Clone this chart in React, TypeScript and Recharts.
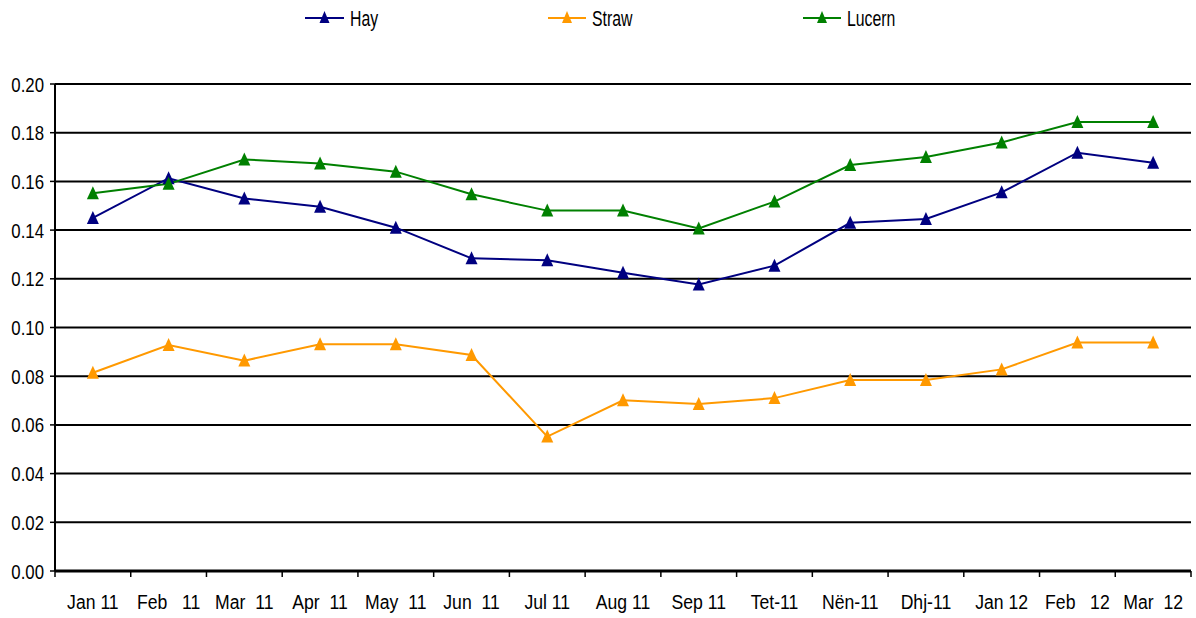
import React from "react";
import { LineChart, Line, XAxis, YAxis, CartesianGrid } from "recharts";

const categories = [
  "Jan 11", "Feb   11", "Mar  11", "Apr  11", "May  11", "Jun  11", "Jul 11", "Aug 11",
  "Sep 11", "Tet-11", "Nën-11", "Dhj-11", "Jan 12", "Feb   12", "Mar  12",
];
const hay = [0.145, 0.1613, 0.153, 0.1496, 0.141, 0.1284, 0.1276, 0.1225, 0.1177, 0.1254, 0.143, 0.1446, 0.1555, 0.1718, 0.1677];
const straw = [0.0814, 0.0928, 0.0864, 0.0931, 0.0931, 0.0887, 0.0552, 0.0701, 0.0686, 0.071, 0.0784, 0.0784, 0.0828, 0.0938, 0.0938];
const lucern = [0.1551, 0.159, 0.169, 0.1674, 0.164, 0.1547, 0.148, 0.148, 0.1407, 0.1517, 0.1667, 0.170, 0.176, 0.1844, 0.1844];
const yTicks = [0, 0.02, 0.04, 0.06, 0.08, 0.1, 0.12, 0.14, 0.16, 0.18, 0.2];

const series = [
  { key: "hay", name: "Hay", color: "#000080", values: hay },
  { key: "straw", name: "Straw", color: "#FF9900", values: straw },
  { key: "lucern", name: "Lucern", color: "#008000", values: lucern },
];

const data = categories.map((c, i) => ({
  pos: i + 0.5,
  label: c,
  hay: hay[i],
  straw: straw[i],
  lucern: lucern[i],
}));

const xTicks: number[] = [];
for (let i = 0; i <= categories.length * 2; i++) xTicks.push(i / 2);

const FONT = "'Liberation Sans', Arial, sans-serif";

const Triangle = (color: string) => (props: any) => {
  const { cx, cy } = props;
  if (cx == null || cy == null) return null;
  return (
    <path
      d={`M${cx},${cy - 7} L${cx + 6},${cy + 6} L${cx - 6},${cy + 6} Z`}
      fill={color}
      stroke="none"
    />
  );
};

const XTick = (props: any) => {
  const { x, y, payload } = props;
  const v = payload.value as number;
  if (Number.isInteger(v)) {
    return <line x1={x} x2={x} y1={y} y2={y + 6} stroke="#000" strokeWidth={1.5} />;
  }
  const label = categories[Math.round(v - 0.5)];
  return (
    <g transform={`translate(${x},${y + 38}) scale(0.84,1)`}>
      <text
        x={0}
        y={0}
        textAnchor="middle"
        fontFamily={FONT}
        fontSize={21}
        fill="#000"
        style={{ whiteSpace: "pre" }}
      >
        {label}
      </text>
    </g>
  );
};

const YTick = (props: any) => {
  const { x, y, payload } = props;
  const v = payload.value as number;
  return (
    <g transform={`translate(${x},${y + 7.5}) scale(0.8,1)`}>
      <text x={0} y={0} textAnchor="end" fontFamily={FONT} fontSize={21} fill="#000">
        {v.toFixed(2)}
      </text>
    </g>
  );
};

const legendPos = [
  { x1: 305, x2: 344, tx: 350 },
  { x1: 548, x2: 586, tx: 592 },
  { x1: 803, x2: 841, tx: 847 },
];

export default function App() {
  return (
    <div style={{ position: "absolute", left: 0, top: 0, width: 1196, height: 618, background: "#fff" }}>
      <svg width={1196} height={40} style={{ position: "absolute", left: 0, top: 0 }}>
        {series.map((s, i) => {
          const p = legendPos[i];
          const cx = (p.x1 + p.x2) / 2;
          return (
            <g key={s.key}>
              <line x1={p.x1} x2={p.x2} y1={18} y2={18} stroke={s.color} strokeWidth={2} />
              <path d={`M${cx},${11} L${cx + 5},${23} L${cx - 5},${23} Z`} fill={s.color} />
              <g transform={`translate(${p.tx},26) scale(0.72,1)`}>
                <text x={0} y={0} fontFamily={FONT} fontSize={22} fill="#000">
                  {s.name}
                </text>
              </g>
            </g>
          );
        })}
      </svg>
      <div style={{ position: "absolute", left: 0, top: 0 }}>
        <LineChart
          width={1196}
          height={618}
          data={data}
          margin={{ top: 84, right: 5, bottom: 0, left: 0 }}
        >
          <CartesianGrid horizontal vertical={false} stroke="#000" strokeWidth={2} />
          <XAxis
            type="number"
            dataKey="pos"
            domain={[0, categories.length]}
            ticks={xTicks}
            interval={0}
            tick={<XTick />}
            tickLine={false}
            tickSize={0}
            tickMargin={0}
            height={47}
            axisLine={{ stroke: "#000", strokeWidth: 3 }}
          />
          <YAxis
            type="number"
            domain={[0, 0.2]}
            ticks={yTicks}
            interval={0}
            width={55}
            tickSize={5}
            tickMargin={6}
            tickLine={{ stroke: "#000", strokeWidth: 1.5 }}
            axisLine={{ stroke: "#000", strokeWidth: 2 }}
            tick={<YTick />}
          />
          {series.map((s) => (
            <Line
              key={s.key}
              dataKey={s.key}
              name={s.name}
              stroke={s.color}
              strokeWidth={2}
              dot={Triangle(s.color)}
              activeDot={false}
              isAnimationActive={false}
            />
          ))}
        </LineChart>
      </div>
    </div>
  );
}
